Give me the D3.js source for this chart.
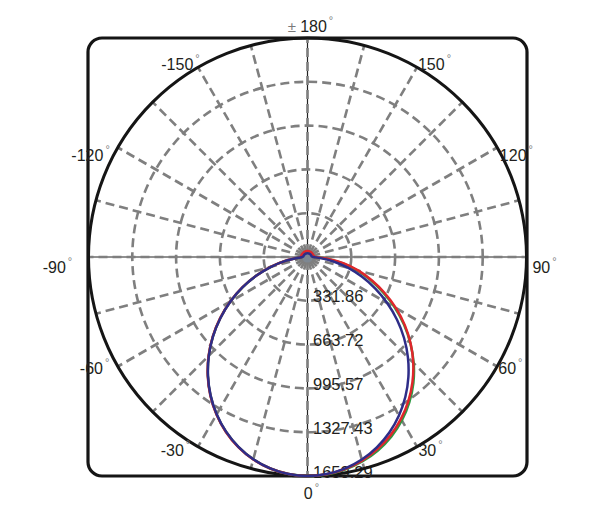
<!DOCTYPE html>
<html>
<head>
<meta charset="utf-8">
<script src="https://cdn.jsdelivr.net/npm/d3@7"></script>
<style>
  html, body { margin: 0; padding: 0; background: #fff; }
  svg { display: block; }
</style>
</head>
<body>
<svg id="chart" width="602" height="519"></svg>
<script>
// ---------------- DATA ----------------
// angles in degrees (0 = down, +90 = right)
const angles = d3.range(-180, 181, 5);

const seriesNames = ["Green", "Red", "Blue"];

const redValues = [
  45, 45, 45, 45, 45, 45, 45, 45, 45, 45, 45, 45, 46, 46, 47, 47, 48, 49,
  48, 74, 174, 289, 414, 545, 677, 808, 937, 1060, 1176, 1283, 1379, 1463, 1533, 1588, 1627, 1651,
  1659,
  1652, 1631, 1597, 1549, 1489, 1416, 1332, 1237, 1133, 1020, 900, 774, 645, 520, 400, 280, 150, 60,
  50, 48, 47, 46, 45, 45, 45, 45, 45, 45, 45, 45, 45, 45, 45, 45, 45, 45
];

const greenValues = [
  38, 38, 38, 38, 38, 38, 38, 38, 38, 38, 38, 38, 38, 39, 39, 40, 40, 41,
  42, 71, 171, 287, 412, 543, 675, 806, 935, 1058, 1174, 1281, 1377, 1461, 1531, 1587, 1627, 1651,
  1659,
  1654, 1635, 1604, 1560, 1502, 1430, 1345, 1248, 1138, 1018, 892, 762, 630, 505, 385, 268, 140, 55,
  42, 40, 40, 39, 39, 38, 38, 38, 38, 38, 38, 38, 38, 38, 38, 38, 38, 38
];

const blueValues = [
  28, 28, 28, 28, 28, 28, 29, 29, 29, 29, 30, 30, 30, 30, 31, 31, 32, 33,
  40, 70, 170, 286, 411, 542, 674, 805, 934, 1057, 1173, 1280, 1376, 1460, 1530, 1586, 1626, 1651,
  1659,
  1651, 1628, 1589, 1535, 1467, 1386, 1293, 1189, 1076, 955, 828, 697, 567, 440, 320, 205, 100, 45,
  33, 32, 31, 31, 30, 30, 30, 30, 29, 29, 29, 29, 28, 28, 28, 28, 28, 28
];

const radialTicks = [331.86, 663.72, 995.57, 1327.43, 1659.29];
const radialTickLabels = ["331.86", "663.72", "995.57", "1327.43", "1659.29"];

const angleTicks = [0, 30, 60, 90, 120, 150, 180, -150, -120, -90, -60, -30];
const angleTickLabels = ["0", "30", "60", "90", "120", "150", "\u00B1 180", "-150", "-120", "-90", "-60", "-30"];

const spokeAngles = d3.range(0, 360, 15);

// ---------------- LAYOUT ----------------
const svg = d3.select("#chart");
const cx = 307.5, cy = 257, R = 219;
const rScale = d3.scaleLinear().domain([0, 1659.29]).range([0, R]);
const toRad = d => d * Math.PI / 180;
const polar = (deg, r) => [cx + r * Math.sin(toRad(deg)), cy + r * Math.cos(toRad(deg))];

const seriesColors = { Red: "#e0262b", Green: "#2e9a44", Blue: "#2e2d88" };
const seriesData = { Red: redValues, Green: greenValues, Blue: blueValues };

// frame
svg.append("rect")
  .attr("x", 88).attr("y", 38).attr("width", 439).attr("height", 438)
  .attr("rx", 14).attr("ry", 14)
  .attr("fill", "none").attr("stroke", "#151515").attr("stroke-width", 3.2);

const g = svg.append("g");

// black thin axis lines
g.append("line").attr("x1", cx - R).attr("x2", cx + R).attr("y1", cy).attr("y2", cy)
  .attr("stroke", "#222").attr("stroke-width", 1.2);
g.append("line").attr("x1", cx).attr("x2", cx).attr("y1", cy - R).attr("y2", cy + R)
  .attr("stroke", "#222").attr("stroke-width", 1.2);

// dashed rings
g.selectAll("circle.ring").data(radialTicks.slice(0, -1)).enter().append("circle")
  .attr("class", "ring")
  .attr("cx", cx).attr("cy", cy).attr("r", d => rScale(d))
  .attr("fill", "none").attr("stroke", "#7f7f7f").attr("stroke-width", 2.6)
  .attr("stroke-dasharray", "9,5");

// dashed spokes
g.selectAll("line.spoke").data(spokeAngles).enter().append("line")
  .attr("class", "spoke")
  .attr("x1", d => polar(d, 4)[0]).attr("y1", d => polar(d, 4)[1])
  .attr("x2", d => polar(d, R)[0]).attr("y2", d => polar(d, R)[1])
  .attr("stroke", "#7f7f7f").attr("stroke-width", 2.6)
  .attr("stroke-dasharray", "9,5");

// center dot
g.append("circle").attr("cx", cx).attr("cy", cy).attr("r", 5.5).attr("fill", "#7d8792");

// radial labels
g.selectAll("text.rlab").data(radialTicks).enter().append("text")
  .attr("class", "rlab")
  .attr("x", cx + 5.5)
  .attr("y", d => cy + rScale(d) - 4.5)
  .attr("dominant-baseline", "central")
  .attr("font-family", "Liberation Sans, Arial, sans-serif")
  .attr("font-size", 16.5)
  .attr("fill", "#231f20")
  .text((d, i) => radialTickLabels[i]);

// outer circle
g.append("circle").attr("cx", cx).attr("cy", cy).attr("r", R)
  .attr("fill", "none").attr("stroke", "#151515").attr("stroke-width", 3);

// curves
const line = d3.lineRadial()
  .angle(d => Math.PI - toRad(d[0]))
  .radius(d => rScale(d[1]))
  .curve(d3.curveCatmullRom);

seriesNames.forEach(name => {
  const vals = seriesData[name];
  const pts = angles.map((a, i) => [a, vals[i]]);
  g.append("path")
    .datum(pts)
    .attr("transform", `translate(${cx},${cy})`)
    .attr("d", line)
    .attr("fill", "none")
    .attr("stroke", seriesColors[name])
    .attr("stroke-width", 2.5)
    .attr("stroke-linejoin", "round");
});

// angle labels
const labelNudge = {
  "0": [4, 3.5], "30": [7, -8], "60": [2, -5], "90": [5, 10], "120": [8, 14], "150": [11, 8],
  "180": [3, 1], "-150": [-11, 8], "-120": [-16, 14], "-90": [-18, 10], "-60": [-12, -5], "-30": [-16, -8]
};
angleTicks.forEach((a, i) => {
  const p = polar(a, 232);
  const n = labelNudge[String(a)];
  const t = svg.append("text")
    .attr("x", p[0] + n[0]).attr("y", p[1] + n[1])
    .attr("text-anchor", "middle")
    .attr("dominant-baseline", "central")
    .attr("font-family", "Liberation Sans, Arial, sans-serif")
    .attr("font-size", 16)
    .attr("fill", "#231f20");
  const lab = angleTickLabels[i];
  if (lab.startsWith("\u00B1")) {
    t.append("tspan").attr("fill", "#7a7a7a").attr("font-size", 15).text("\u00B1 ");
    t.append("tspan").text(lab.slice(2));
  } else {
    t.append("tspan").text(lab);
  }
  t.append("tspan").attr("font-size", 11).attr("fill", "#808080").attr("dx", 2).attr("dy", -6).text("\u00B0");
});
</script>
</body>
</html>
